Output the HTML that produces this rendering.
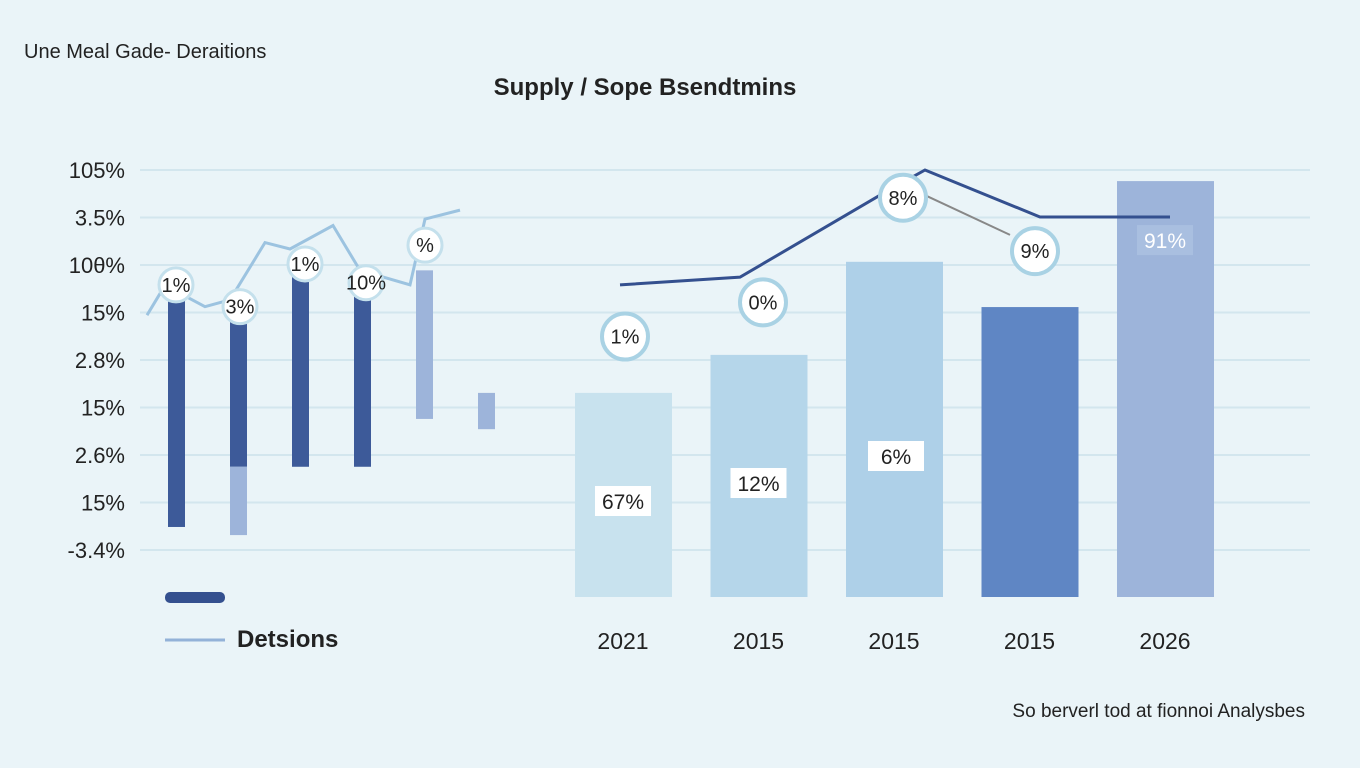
<!DOCTYPE html>
<html><head><meta charset="utf-8"><style>
body{margin:0;width:1360px;height:768px;background:#eaf4f8;font-family:"Liberation Sans",sans-serif;overflow:hidden}
svg{display:block}
</style></head><body>
<svg id="c" width="1360" height="768">
<rect width="1360" height="768" fill="#eaf4f8"/>
<text x="24" y="58" font-size="20" fill="#222">Une Meal Gade- Deraitions</text>
<text x="645" y="95" font-size="24" font-weight="bold" fill="#222" text-anchor="middle">Supply / Sope Bsendtmins</text>
<g id="grid"></g><g id="marks"></g><g id="labels"></g>
<rect x="165" y="592" width="60" height="11" rx="5" fill="#34508f"/>
<line x1="165" y1="640" x2="225" y2="640" stroke="#93b2d8" stroke-width="3"/>
<text x="237" y="647" font-size="24" font-weight="bold" fill="#222">Detsions</text>
<text x="1305" y="717" font-size="19" fill="#222" text-anchor="end">So berverl tod at fionnoi Analysbes</text>
</svg>
<script>
const yTicks=["105%","3.5%","10θ%","15%","2.8%","15%","2.6%","15%","-3.4%"];
const years=["2021","2015","2015","2015","2026"];
const rightBars=[47.8,56.7,78.5,67.9,97.4];
const rightBarLabels=["67%","12%","6%","","91%"];
const lineVals=[73.1,74.9,94.1,100,89,89];
const circleLabels=["1%","0%","8%","9%"];
const circleVals=[61,69,93.5,81];
const leftStart=[69.6,65,75.6,72,76.5,47.8];
const leftEnd=[16.4,30.5,30.5,30.5,41.7,39.3];
const leftSplit=[null,30.5,null,null,null,null];
const leftEnd2=[null,14.5,null,null,null,null];
const leftLine=[66,73,68,69.6,83,81.5,87,76.5,73.1,88.5,90.6];
const leftLabels=["1%","3%","1%","10%","%"];
const leftLabelVals=[73.1,68,78,73.6,82.4];
const NS="http://www.w3.org/2000/svg";
const y=v=>597-v*4.27;
const tickY=i=>170+i*47.5;
const rx=i=>623+i*135.5;
const lx=i=>176+i*62;
function el(t,a,p){const e=document.createElementNS(NS,t);for(const k in a)e.setAttribute(k,a[k]);document.getElementById(p).appendChild(e);return e;}
yTicks.forEach((t,i)=>{
 const l=el('line',{x1:140,x2:1310,y1:tickY(i),y2:tickY(i),stroke:'#d3e6ee','stroke-width':2},'grid');
 
 
 const tx=el('text',{x:125,y:tickY(i)+8,'font-size':22,fill:'#222','text-anchor':'end'},'grid');tx.textContent=t;
 
 
});
const cols=['#c8e2ee','#b5d6ea','#aed0e8','#5f86c4','#9db4da'];
rightBars.forEach((v,i)=>{
 const r=el('rect',{x:rx(i)-48,y:y(v),width:97,height:597-y(v),fill:cols[i]},'marks');
 
 
 const t=el('text',{x:rx(i),y:649,'font-size':23,fill:'#222','text-anchor':'middle'},'labels');t.textContent=years[i];
 
 
 if(rightBarLabels[i]){
  const ly=i==4?y(v)+60:[502,484,457][i];
  const bx=el('rect',{x:rx(i)-28+(i==2?2:0),y:ly-16,width:56,height:30,fill:i==4?'#a9bfe0':'#fff'},'labels');
  
  
  const b=el('text',{x:rx(i)+(i==2?2:0),y:ly+7,'font-size':21,fill:i==4?'#fff':'#222','text-anchor':'middle'},'labels');b.textContent=rightBarLabels[i];
  
  
 }
});
const lxs=[620,740,880,925,1040,1170];
const lp=el('polyline',{points:lineVals.map((v,i)=>lxs[i]+','+y(v)).join(' '),fill:'none',stroke:'#34508f','stroke-width':3},'marks');


const gl=el('line',{x1:925,y1:y(94.1),x2:1010,y2:y(84.8),stroke:'#888','stroke-width':2},'marks');


const cxs=[625,763,903,1035];
circleLabels.forEach((t,i)=>{
 const c=el('circle',{cx:cxs[i],cy:y(circleVals[i]),r:23,fill:'#fff',stroke:'#a9d2e4','stroke-width':4},'labels');
 
 
 const tx=el('text',{x:cxs[i],y:y(circleVals[i])+7,'font-size':20,fill:'#222','text-anchor':'middle'},'labels');tx.textContent=t;
 
 
});
leftStart.forEach((s,i)=>{
 const light=i>=4;
 const r=el('rect',{x:lx(i)-8,y:y(s),width:17,height:y(leftEnd[i])-y(s),fill:light?'#9db4da':'#3d5a99'},'marks');
 
 
 if(leftSplit[i]!==null){
  const r2=el('rect',{x:lx(i)-8,y:y(leftSplit[i]),width:17,height:y(leftEnd2[i])-y(leftSplit[i]),fill:'#9db4da'},'marks');
  
  
 }
});
const llx=[147,165,205,230,265,290,333,360,410,425,460];
const ll=el('polyline',{points:leftLine.map((v,i)=>llx[i]+','+y(v)).join(' '),fill:'none',stroke:'#9cc3e0','stroke-width':3},'marks');


const lbx=[176,240,305,366,425];
leftLabels.forEach((t,i)=>{
 const c=el('circle',{cx:lbx[i],cy:y(leftLabelVals[i]),r:17,fill:'#fff',stroke:'#c4e0ec','stroke-width':3},'labels');
 
 
 const tx=el('text',{x:lbx[i],y:y(leftLabelVals[i])+7,'font-size':20,fill:'#222','text-anchor':'middle'},'labels');tx.textContent=t;
 
 
});
</script>
</body></html>
